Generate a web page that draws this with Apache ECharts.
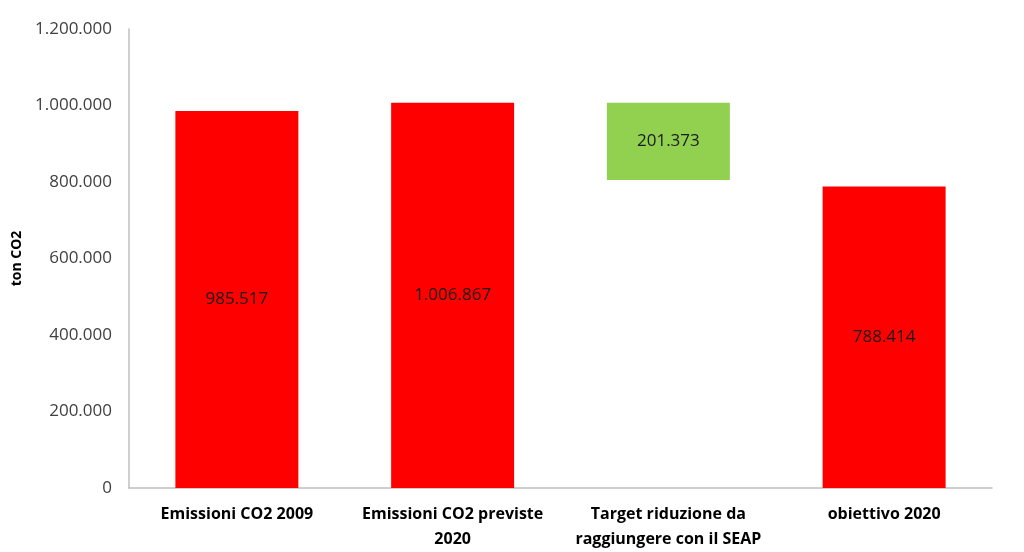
<!DOCTYPE html>
<html>
<head>
<meta charset="utf-8">
<script src="https://cdn.jsdelivr.net/npm/echarts@6/dist/echarts.min.js"></script>
<style>
  html, body { margin: 0; padding: 0; background: #fff; }
  #container { width: 1024px; height: 552px; }
</style>
</head>
<body>
<div id="container"></div>
<script>
const categories = ['Emissioni CO2 2009', 'Emissioni CO2 previste\n2020', 'Target riduzione da\nraggiungere con il SEAP', 'obiettivo 2020'];
const values = [985517, 1006867, 201373, 788414];
// invisible base so the target bar floats (previste 2020 - target)
const base = [0, 0, 805494, 0];
const barColors = ['#ff0000', '#ff0000', '#92d050', '#ff0000'];
const yTicks = [0, 200000, 400000, 600000, 800000, 1000000, 1200000];

function fmt(v) {
  return String(v).replace(/\B(?=(\d{3})+(?!\d))/g, '.');
}

const dom = document.getElementById('container');
const myChart = echarts.init(dom, null, { renderer: 'canvas' });

const font = '"Open Sans", "Liberation Sans", sans-serif';

let option = {
  animation: false,
  grid: { left: 129, right: 32, top: 29, bottom: 63 },
  xAxis: {
    type: 'category',
    data: categories,
    axisLine: { lineStyle: { color: '#bfbfbf', width: 1.5 } },
    axisTick: { show: false },
    axisLabel: {
      color: '#000',
      fontWeight: 'bold',
      fontSize: 16,
      fontFamily: font,
      margin: 14,
      lineHeight: 25,
      interval: 0
    }
  },
  yAxis: {
    type: 'value',
    min: yTicks[0],
    max: yTicks[yTicks.length - 1],
    interval: 200000,
    name: 'ton CO2',
    nameLocation: 'middle',
    nameGap: 104,
    nameRotate: 90,
    nameTextStyle: { color: '#000', fontWeight: 'bold', fontSize: 14, fontFamily: font },
    axisLine: { show: true, lineStyle: { color: '#bfbfbf', width: 1.5 } },
    axisTick: { show: false },
    splitLine: { show: false },
    axisLabel: {
      color: '#404040',
      fontSize: 17,
      fontFamily: font,
      margin: 17,
      formatter: fmt
    }
  },
  series: [
    {
      type: 'bar',
      stack: 'total',
      data: base,
      itemStyle: { color: 'transparent' },
      silent: true
    },
    {
      type: 'bar',
      stack: 'total',
      barWidth: '57%',
      data: values.map((v, i) => ({ value: v, itemStyle: { color: barColors[i] } })),
      label: {
        show: true,
        position: 'inside',
        color: '#1a1a1a',
        fontSize: 17,
        fontFamily: font,
        formatter: p => fmt(p.value)
      }
    }
  ]
};

myChart.setOption(option);
window.addEventListener('resize', myChart.resize);
</script>
</body>
</html>
